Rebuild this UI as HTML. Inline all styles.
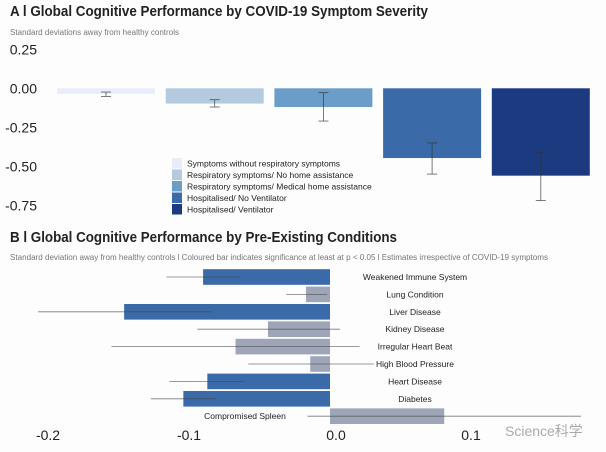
<!DOCTYPE html>
<html><head><meta charset="utf-8"><style>
body{margin:0;background:#fdfdfe;font-family:"Liberation Sans","Noto Sans CJK SC",sans-serif}
svg{display:block}
</style></head><body>
<svg width="606" height="452" viewBox="0 0 606 452" id="fig">
<rect width="606" height="452" fill="#fdfdfe"/>
<text x="10" y="16" font-size="14.5" font-weight="bold" fill="#222" textLength="418" lengthAdjust="spacingAndGlyphs">A l Global Cognitive Performance by COVID-19 Symptom Severity</text>
<text x="10" y="35" font-size="8" fill="#777" textLength="169" lengthAdjust="spacingAndGlyphs">Standard deviations away from healthy controls</text>
<g id="ca"></g>
<text x="10" y="242" font-size="14.5" font-weight="bold" fill="#222" textLength="387" lengthAdjust="spacingAndGlyphs">B l Global Cognitive Performance by Pre-Existing Conditions</text>
<text x="10" y="260" font-size="8" fill="#777" textLength="538" lengthAdjust="spacingAndGlyphs">Standard deviation away from healthy controls l Coloured bar indicates significance at least at p &lt; 0.05 l Estimates irrespective of COVID-19 symptoms</text>
<g id="cb"></g>
<text x="505" y="436" font-size="14" fill="#aaa">Science科学</text>
</svg>
<script>
// Chart A data
const aCategories=["Symptoms without respiratory symptoms","Respiratory symptoms/ No home assistance","Respiratory symptoms/ Medical home assistance","Hospitalised/ No Ventilator","Hospitalised/ Ventilator"];
const aValues=[-0.036,-0.098,-0.12,-0.447,-0.56];
const aLow=[-0.052,-0.12,-0.21,-0.55,-0.72];
const aHigh=[-0.024,-0.073,-0.028,-0.35,-0.41];
const aTicks=[0.25,0,-0.25,-0.5,-0.75];
const aColors=["#e9edfb","#b3cadf","#6a9ec9","#3a6aa8","#1b3a80"];
// Chart B data
const bCategories=["Weakened Immune System","Lung Condition","Liver Disease","Kidney Disease","Irregular Heart Beat","High Blood Pressure","Heart Disease","Diabetes","Compromised Spleen"];
const bValues=[-0.090,-0.017,-0.146,-0.044,-0.067,-0.014,-0.087,-0.104,0.081];
const bLow=[-0.116,-0.031,-0.207,-0.094,-0.155,-0.058,-0.114,-0.127,-0.016];
const bHigh=[-0.064,-0.002,-0.084,0.007,0.021,0.031,-0.061,-0.081,0.178];
const bSignificant=[true,false,true,false,false,false,true,true,false];
const bTicks=[-0.2,-0.1,0.0,0.1];

const NS="http://www.w3.org/2000/svg";
function mk(p,t,a){const e=document.createElementNS(NS,t);for(const k in a)e.setAttribute(k,a[k]);p.appendChild(e);return e;}
const ga=document.getElementById('ca'), gb=document.getElementById('cb');
const ay=v=>88.3-v*156;
const ax=i=>57+i*108.7;
aTicks.forEach(t=>{const e=mk(ga,'text',{x:37,y:ay(t)+5,'font-size':14,'text-anchor':'end',fill:'#222'});e.textContent=t.toFixed(2);

});
aValues.forEach((v,i)=>{
 const r=mk(ga,'rect',{x:ax(i),y:ay(0),width:98,height:ay(v)-ay(0),fill:aColors[i]});
 
 
 const cx=ax(i)+49;
 const g=mk(ga,'g',{stroke:'#333','stroke-width':0.8,opacity:0.8});
 
 
 mk(g,'line',{x1:cx,x2:cx,y1:ay(aHigh[i]),y2:ay(aLow[i])});
 mk(g,'line',{x1:cx-5,x2:cx+5,y1:ay(aHigh[i]),y2:ay(aHigh[i])});
 mk(g,'line',{x1:cx-5,x2:cx+5,y1:ay(aLow[i]),y2:ay(aLow[i])});
});
aCategories.forEach((c,i)=>{
 const y=158+i*11.5;
 const s=mk(ga,'rect',{x:172,y:y,width:10,height:10.5,fill:aColors[i]});
 
 
 const t=mk(ga,'text',{x:187,y:y+8.5,'font-size':8.5,fill:'#222'});t.textContent=c;
 
 
});
const bx=v=>330+v*1410;
const by=i=>277+i*17.4;
bValues.forEach((v,i)=>{
 const x0=Math.min(bx(0),bx(v)),w=Math.abs(bx(v)-bx(0));
 const r=mk(gb,'rect',{x:x0,y:by(i)-7.8,width:w,height:15.6,fill:bSignificant[i]?'#3a6aa8':'#9ea5b8'});
 
 
 const l=mk(gb,'line',{x1:bx(bLow[i]),x2:bx(bHigh[i]),y1:by(i),y2:by(i),stroke:'#444','stroke-width':0.8,opacity:0.7});
 
 
 const t=mk(gb,'text',{x:v>0?245:415,y:by(i)+3,'font-size':8.5,'text-anchor':'middle',fill:'#222'});t.textContent=bCategories[i];
 
 
});
bTicks.forEach(t=>{const e=mk(gb,'text',{x:bx(t)+(t===0?6:0),y:440,'font-size':14,'text-anchor':'middle',fill:'#222'});e.textContent=t.toFixed(1);

});
</script>
</body></html>
